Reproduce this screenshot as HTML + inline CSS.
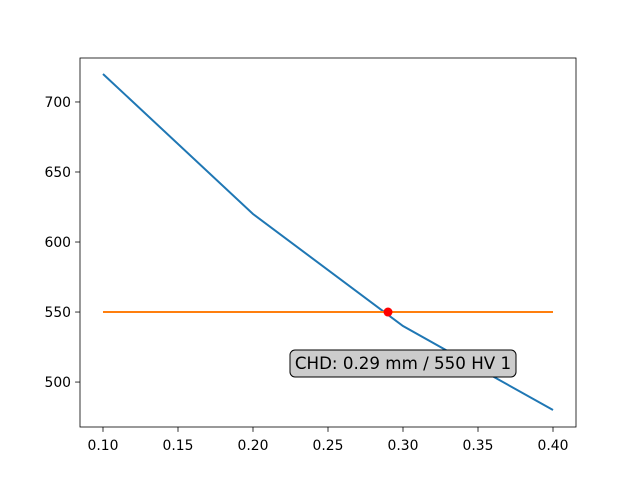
<!DOCTYPE html>
<html><head><meta charset="utf-8"><style>body{margin:0;background:#fff}svg{display:block;font-family:"DejaVu Sans","Liberation Sans",sans-serif}</style></head>
<body>
<svg id="chart" width="640" height="480" xmlns="http://www.w3.org/2000/svg"></svg>
<script>
const depths = [0.1, 0.2, 0.3, 0.4];
const hardness = [720, 620, 540, 480];
const threshold = 550;
const chdPoint = [0.29, 550];
const xTicks = [0.10, 0.15, 0.20, 0.25, 0.30, 0.35, 0.40];
const yTicks = [500, 550, 600, 650, 700];
const annotation = "CHD: 0.29 mm / 550 HV 1";

const L=80,R=576,T=58,B=427;
const x0=0.08467,x1=0.41533,y0=467.9,y1=731.4;
const X=v=>L+(v-x0)/(x1-x0)*(R-L);
const Y=v=>B-(v-y0)/(y1-y0)*(B-T);
const svg=document.getElementById('chart');
const NS='http://www.w3.org/2000/svg';
function mk(t,a,p){const e=document.createElementNS(NS,t);for(const k in a)e.setAttribute(k,a[k]);(p||svg).appendChild(e);return e;}

const hl=mk('polyline',{points:depths.map((d,i)=>X(d)+','+Y(hardness[i])).join(' '),fill:'none',stroke:'#1f77b4','stroke-width':2});


const tl=mk('line',{x1:X(depths[0]),x2:X(depths[depths.length-1]),y1:Y(threshold),y2:Y(threshold),stroke:'#ff7f0e','stroke-width':2});


const pt=mk('circle',{cx:X(chdPoint[0]),cy:Y(chdPoint[1]),r:4.5,fill:'red'});



const ax=mk('rect',{x:L,y:T,width:R-L,height:B-T,fill:'none',stroke:'#000','stroke-width':0.8});



xTicks.forEach(v=>{
  const g=mk('g',{});
  
  
  mk('line',{x1:X(v),x2:X(v),y1:B,y2:B+4.9,stroke:'#000','stroke-width':0.8},g);
  const t=mk('text',{x:X(v),y:B+23,'font-size':13.9,'text-anchor':'middle'},g);t.textContent=v.toFixed(2);
});
yTicks.forEach(v=>{
  const g=mk('g',{});
  
  
  mk('line',{x1:L,x2:L-4.9,y1:Y(v),y2:Y(v),stroke:'#000','stroke-width':0.8},g);
  const t=mk('text',{x:L-9,y:Y(v)+5,'font-size':13.9,'text-anchor':'end'},g);t.textContent=v;
});

const ag=mk('g',{});


mk('rect',{x:290,y:350,width:226,height:27,rx:5,fill:'#cccccc',stroke:'#000','stroke-width':1},ag);
const at=mk('text',{x:403,y:369,'font-size':16.7,'text-anchor':'middle'},ag);at.textContent=annotation;
</script>
</body></html>
